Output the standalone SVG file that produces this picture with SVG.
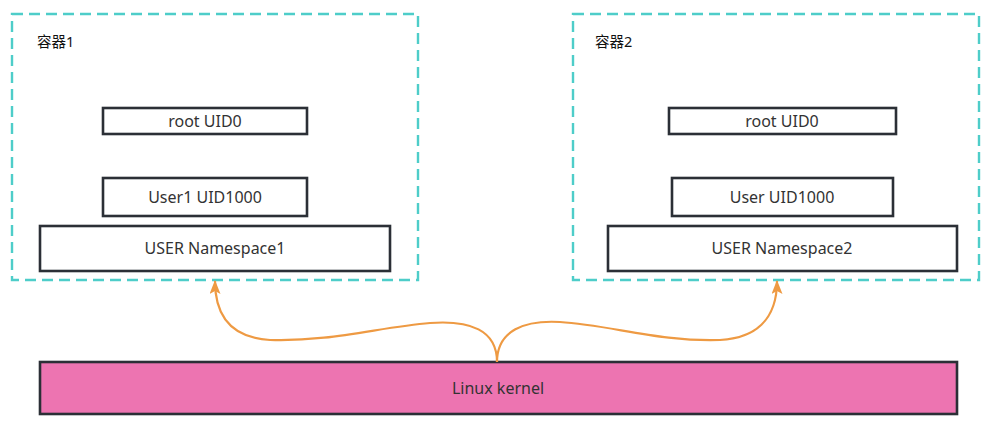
<svg xmlns="http://www.w3.org/2000/svg" width="991" height="423" viewBox="0 0 991 423">
<style>
.cont{fill:none;stroke:#4ECDC9;stroke-width:2.4;stroke-dasharray:11 6}
.box{fill:#fff;stroke:#2b2f36;stroke-width:2.6}
.kern{fill:#ED74B1;stroke:#2b2f36;stroke-width:2.6}
text{font-family:"Noto Sans","Noto Sans CJK SC",sans-serif;font-size:16px;fill:#333}
.lbl{font-size:14.5px;fill:#111}
.c{text-anchor:middle}
.edge{fill:none;stroke:#EE9A43;stroke-width:2.2}
</style>
<defs>
<marker id="ah" viewBox="0 0 14 11" refX="13" refY="5.5" markerWidth="14" markerHeight="11" orient="auto" markerUnits="userSpaceOnUse">
<path d="M0,0 L14,5.5 L0,11 L3,5.5 Z" fill="#EE9A43"/>
</marker>
</defs>
<g id="container1">
<rect class="cont" x="12" y="14" width="406" height="266"/>
<text class="lbl" x="37" y="47">容器1</text>
</g>
<g id="root1"><rect class="box" x="103" y="108" width="204" height="26"/><text class="c" x="205" y="127">root UID0</text></g>
<g id="user1"><rect class="box" x="103" y="178" width="204" height="38"/><text class="c" x="205" y="203">User1 UID1000</text></g>
<g id="ns1"><rect class="box" x="40" y="226" width="350" height="45"/><text class="c" x="215" y="254">USER Namespace1</text></g>
<g id="container2">
<rect class="cont" x="573" y="14" width="406" height="266"/>
<text class="lbl" x="595" y="47">容器2</text>
</g>
<g id="root2"><rect class="box" x="669" y="108" width="227" height="26"/><text class="c" x="782" y="127">root UID0</text></g>
<g id="user2"><rect class="box" x="672" y="178" width="221" height="38"/><text class="c" x="782" y="203">User UID1000</text></g>
<g id="ns2"><rect class="box" x="608" y="226" width="349" height="45"/><text class="c" x="782" y="254">USER Namespace2</text></g>
<g id="kernel"><rect class="kern" x="40" y="362" width="917" height="52"/><text class="c" x="498" y="394">Linux kernel</text></g>
<g id="connectors">
<path class="edge" marker-end="url(#ah)" d="M497,362 C497,330 470,320 430,323 C380,327 330,342 270,340 C235,338 215,320 215,281"/>
<path class="edge" marker-end="url(#ah)" d="M497,362 C497,330 525,320 560,322 C610,325 660,342 720,340 C755,338 777,320 777,281"/>
</g>
</svg>
